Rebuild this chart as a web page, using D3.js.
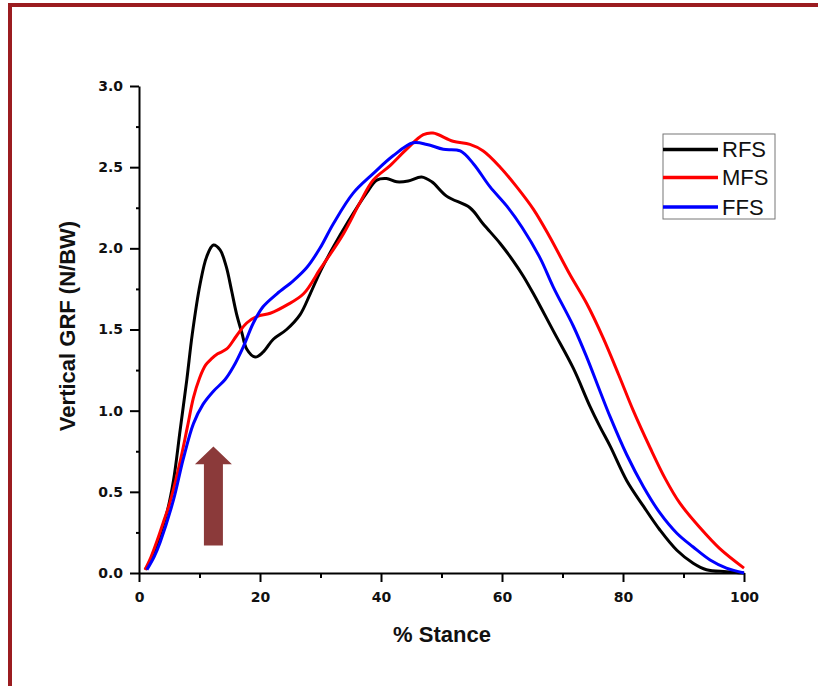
<!DOCTYPE html>
<html>
<head>
<meta charset="utf-8">
<script src="https://cdn.jsdelivr.net/npm/d3@7"></script>
<style>
  body { margin: 0; background: #fff; }
  .axis path, .axis line { stroke: #000; stroke-width: 2px; }
  .axis text { font-family: "DejaVu Sans", sans-serif; font-weight: bold; font-size: 14px; fill: #111; }
  .title { font-family: "Liberation Sans", Arial, sans-serif; font-weight: bold; font-size: 22px; fill: #111; }
  .legend text { font-family: "Liberation Sans", Arial, sans-serif; font-size: 22px; fill: #111; }
</style>
</head>
<body>
<script>
// values: [% stance, vertical GRF (N/BW)]
var rfs = [
  [1,0.02],[2,0.08],[3,0.18],[4.6,0.37],[5.7,0.57],[6.8,0.88],[7.9,1.19],
  [8.8,1.47],[10.1,1.78],[11.2,1.95],[12.3,2.02],[13.4,1.99],[14.4,1.89],
  [15.3,1.74],[16.1,1.6],[17,1.48],[17.8,1.38],[19.2,1.33],[20.5,1.36],
  [22.2,1.44],[24.4,1.5],[26.6,1.59],[28.3,1.72],[30,1.86],[32,2.0],
  [34.5,2.16],[37.6,2.34],[39.3,2.42],[40.9,2.43],[42.6,2.41],[44.5,2.415],
  [46.7,2.44],[48.4,2.41],[50.9,2.32],[54.7,2.25],[56.9,2.15],[59.7,2.03],
  [61.9,1.92],[63.5,1.83],[65.2,1.72],[68.5,1.49],[71.8,1.26],[74.5,1.03],
  [76.2,0.9],[77.9,0.78],[80.6,0.57],[83.4,0.41],[86.1,0.265],[88.9,0.14],
  [91.6,0.06],[93.8,0.02],[97.1,0.008],[100,0]
];
var mfs = [
  [1,0.02],[2,0.1],[3,0.2],[4,0.31],[5,0.42],[6,0.56],[7,0.72],[8,0.9],
  [9,1.08],[10,1.2],[11,1.28],[12,1.32],[13,1.35],[14.5,1.38],[16.1,1.46],
  [17.8,1.54],[19.5,1.58],[21.7,1.6],[24.4,1.65],[27.2,1.72],[29.9,1.87],
  [31,1.93],[33.8,2.09],[36.5,2.28],[38.7,2.42],[41.5,2.51],[44.2,2.61],
  [47,2.7],[48.6,2.71],[51.9,2.66],[54.7,2.64],[56.9,2.6],[59.7,2.5],
  [62.4,2.38],[65.2,2.24],[67.9,2.07],[71.2,1.84],[74,1.66],[76.7,1.45],
  [79.3,1.22],[81.7,1.0],[84.5,0.77],[87,0.58],[89.4,0.43],[92.7,0.28],
  [96,0.15],[100,0.03]
];
var ffs = [
  [1.3,0.02],[2.5,0.1],[3.5,0.19],[5.7,0.45],[7.3,0.7],[9,0.92],[10.6,1.04],
  [12.3,1.12],[14.2,1.19],[15.6,1.27],[17.2,1.39],[18.9,1.54],[20.5,1.64],
  [22.8,1.72],[25.5,1.8],[27.7,1.88],[29.9,2.0],[32.1,2.15],[35.4,2.34],
  [38.7,2.46],[42,2.57],[45.3,2.65],[47.6,2.64],[50.3,2.61],[53.1,2.6],
  [55.3,2.52],[58,2.38],[60.8,2.26],[63.3,2.13],[66.3,1.94],[68.5,1.76],
  [71.8,1.52],[74,1.33],[76.2,1.12],[77.9,0.96],[80.6,0.73],[83.4,0.53],
  [86.1,0.37],[88.9,0.245],[91.6,0.16],[94.4,0.08],[97.1,0.03],[100,0]
];
var seriesNames = ["RFS", "MFS", "FFS"];
var seriesColors = ["#000000", "#ff0000", "#0000ff"];
var xTicks = [0, 20, 40, 60, 80, 100];
var yTicks = [0, 0.5, 1.0, 1.5, 2.0, 2.5, 3.0];

var width = 818, height = 686;

var x = d3.scaleLinear().domain([0, 100]).range([139, 744]);
var y = d3.scaleLinear().domain([0, 3]).range([573, 86]);

var svg = d3.select("body").append("svg")
    .attr("width", width)
    .attr("height", height);

svg.append("rect").attr("width", width).attr("height", height).attr("fill", "#fff");

// dark red frame (only left and top edges show)
svg.append("rect")
    .attr("x", 10).attr("y", 5)
    .attr("width", 900).attr("height", 900)
    .attr("fill", "none")
    .attr("stroke", "#9b1c20")
    .attr("stroke-width", 4);

// minor ticks
svg.append("g")
    .attr("class", "axis")
    .attr("transform", "translate(0,573)")
    .call(d3.axisBottom(x).tickValues(d3.range(10, 100, 20)).tickSize(5).tickFormat(""))
    .select(".domain").remove();
svg.append("g")
    .attr("class", "axis")
    .attr("transform", "translate(139,0)")
    .call(d3.axisLeft(y).tickValues(d3.range(0.25, 3, 0.5)).tickSize(3).tickFormat(""))
    .select(".domain").remove();

// axis-x
svg.append("g")
    .attr("class", "axis")
    .attr("transform", "translate(0,573)")
    .call(d3.axisBottom(x).tickValues(xTicks).tickSize(9).tickSizeOuter(0).tickPadding(10).tickFormat(d3.format("d")));

// axis-y
svg.append("g")
    .attr("class", "axis")
    .attr("transform", "translate(139,0)")
    .call(d3.axisLeft(y).tickValues(yTicks).tickSize(9).tickSizeOuter(0).tickPadding(7).tickFormat(d3.format(".1f")));

// titles
svg.append("text")
    .attr("class", "title")
    .attr("x", 442).attr("y", 642)
    .attr("text-anchor", "middle")
    .text("% Stance");
svg.append("text")
    .attr("class", "title")
    .attr("transform", "translate(75,326) rotate(-90)")
    .attr("text-anchor", "middle")
    .text("Vertical GRF (N/BW)");

// lines
var line = d3.line()
    .x(function(d) { return x(d[0]); })
    .y(function(d) { return y(d[1]); })
    .curve(d3.curveCatmullRom.alpha(0.5));

[rfs, mfs, ffs].forEach(function(s, i) {
  svg.append("path")
      .attr("d", line(s))
      .attr("fill", "none")
      .attr("stroke", seriesColors[i])
      .attr("stroke-width", 3)
      .attr("stroke-linejoin", "round");
});

// legend
var legend = svg.append("g").attr("class", "legend");
legend.append("rect")
    .attr("x", 663).attr("y", 134)
    .attr("width", 112).attr("height", 85)
    .attr("fill", "#fff")
    .attr("stroke", "#777")
    .attr("stroke-width", 1);
var ly = [149.5, 177.5, 207];
seriesNames.forEach(function(name, i) {
  legend.append("line")
      .attr("x1", 663).attr("x2", 718)
      .attr("y1", ly[i]).attr("y2", ly[i])
      .attr("stroke", seriesColors[i])
      .attr("stroke-width", 3.5);
  legend.append("text")
      .attr("x", 722).attr("y", ly[i] + 7.5)
      .text(name);
});

// arrow marking the impact peak
var ax = x(12.3), tipY = y(0.78), headY = y(0.67), baseY = y(0.17);
svg.append("path")
    .attr("d", "M" + ax + "," + tipY +
               "L" + (ax + 18.5) + "," + headY +
               "L" + (ax + 9.5) + "," + headY +
               "L" + (ax + 9.5) + "," + baseY +
               "L" + (ax - 9.5) + "," + baseY +
               "L" + (ax - 9.5) + "," + headY +
               "L" + (ax - 18.5) + "," + headY + "Z")
    .attr("fill", "#8b3a3a");
</script>
</body>
</html>
